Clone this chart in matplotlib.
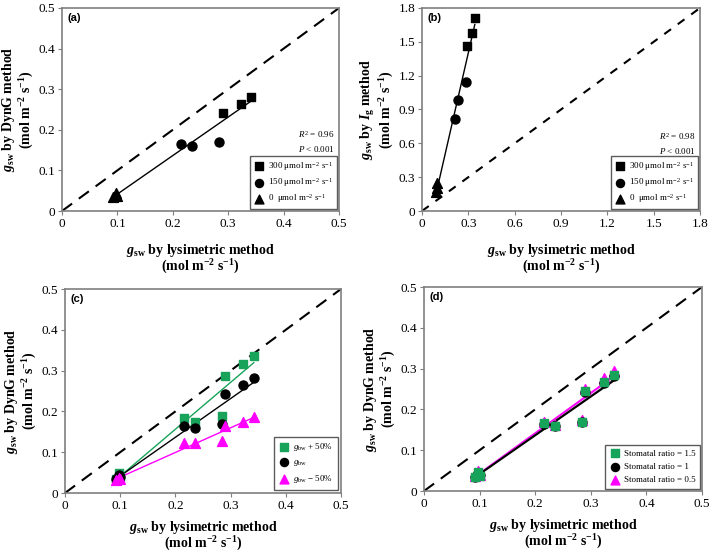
import numpy as np
import matplotlib.pyplot as plt

plt.rcParams['font.family'] = ['Liberation Serif', 'DejaVu Serif']
plt.rcParams['mathtext.fontset'] = 'custom'
plt.rcParams['mathtext.rm'] = 'Liberation Serif'
plt.rcParams['mathtext.it'] = 'Liberation Serif:italic'
plt.rcParams['mathtext.bf'] = 'Liberation Serif:bold'
plt.rcParams['mathtext.bfit'] = 'Liberation Serif:bold:italic'

## lysimetric gsw for the three light levels
lys_300 = [0.290, 0.323, 0.342]
lys_150 = [0.215, 0.235, 0.284]
lys_0 = [0.092, 0.097, 0.100]

## (a) DynG
dyn_300 = [0.242, 0.264, 0.281]
dyn_150 = [0.165, 0.159, 0.169]
dyn_0 = [0.035, 0.045, 0.038]

## (b) Ig method
ig_300 = [1.46, 1.58, 1.71]
ig_150 = [0.82, 0.98, 1.14]
ig_0 = [0.17, 0.25, 0.20]

## (c) sensitivity to gbw (order: 0, 150, 300 points)
gbw_plus = [0.035, 0.050, 0.038, 0.185, 0.175, 0.188, 0.287, 0.316, 0.337]
gbw_base = [0.035, 0.045, 0.038, 0.165, 0.159, 0.169, 0.242, 0.264, 0.281]
gbw_minus = [0.033, 0.037, 0.035, 0.123, 0.123, 0.127, 0.163, 0.175, 0.186]

## (d) sensitivity to stomatal ratio
sr_15 = [0.035, 0.047, 0.037, 0.167, 0.160, 0.170, 0.244, 0.268, 0.285]
sr_1 = [0.035, 0.045, 0.038, 0.165, 0.159, 0.169, 0.242, 0.264, 0.281]
sr_05 = [0.036, 0.048, 0.039, 0.170, 0.162, 0.175, 0.250, 0.276, 0.293]

lys_all = lys_0 + lys_150 + lys_300

light_labels = [r'300 $\mathrm{\mu}$mol m$^{-2}$ s$^{-1}$',
                r'150 $\mathrm{\mu}$mol m$^{-2}$ s$^{-1}$',
                r'0  $\mathrm{\mu}$mol m$^{-2}$ s$^{-1}$']

GREEN = '#17a35a'
MAGENTA = '#ff00ff'
FRAME = '#7f7f7f'
S_SQ, S_CI, S_TR = 40, 42, 50

fig = plt.figure(figsize=(7.09, 5.54), dpi=100)
W, H = 709.0, 554.0


def make_ax(x0, x1, ytop, ybot):
    return fig.add_axes([x0 / W, 1 - ybot / H, (x1 - x0) / W, (ybot - ytop) / H])


def style(ax, lim, ticks, tlabels, ylab, xpad=9):
    ax.set_xlim(0, lim)
    ax.set_ylim(0, lim)
    ax.set_xticks(ticks)
    ax.set_yticks(ticks)
    ax.set_xticklabels(tlabels, fontsize=9.5)
    ax.set_yticklabels(tlabels, fontsize=9.5)
    for s in ax.spines.values():
        s.set_color(FRAME)
        s.set_linewidth(1.2)
    ax.tick_params(length=3, width=0.8, color=FRAME, pad=2)
    ax.set_xlabel(r'$\mathbfit{g}_{\mathbf{sw}}$ by lysimetric method' + '\n'
                  + r'(mol m$^{\mathbf{-2}}$ s$^{\mathbf{-1}}$)',
                  fontsize=10, fontweight='bold', labelpad=xpad, linespacing=0.9)
    ax.set_ylabel(ylab, fontsize=10, fontweight='bold', labelpad=2, linespacing=1.0)
    ax.plot([0, lim], [0, lim], color='black', lw=1.5, ls=(0, (6, 4)), zorder=1)


def fit_line(ax, x, y, color, lw=1.0):
    k, b = np.polyfit(x, y, 1)
    xs = np.array([min(x), max(x)])
    ax.plot(xs, k * xs + b, color=color, lw=lw, zorder=2)


def panel_tag(ax, tag):
    ax.text(0.02, 0.975, tag, transform=ax.transAxes, fontsize=8, fontweight='bold',
            family='Liberation Sans', va='top', ha='left')


ylab_dyn = (r'$\mathbfit{g}_{\mathbf{sw}}$ by DynG method' + '\n'
            + r'(mol m$^{\mathbf{-2}}$ s$^{\mathbf{-1}}$)')
ylab_ig = (r'$\mathbfit{g}_{\mathbf{sw}}$ by $\mathbfit{I}_{\mathbf{g}}$ method' + '\n'
           + r'(mol m$^{\mathbf{-2}}$ s$^{\mathbf{-1}}$)')

t5 = [0, 0.1, 0.2, 0.3, 0.4, 0.5]
t5l = ['0', '0.1', '0.2', '0.3', '0.4', '0.5']
t18 = [0, 0.3, 0.6, 0.9, 1.2, 1.5, 1.8]
t18l = ['0', '0.3', '0.6', '0.9', '1.2', '1.5', '1.8']

leg_kw = dict(loc='lower right', fontsize=6.5, frameon=True, fancybox=False,
              edgecolor='#333333', handletextpad=0.4, borderpad=0.4,
              labelspacing=0.35, handlelength=1.2, borderaxespad=0.25,
              markerscale=0.9)

# (a)
ax = make_ax(62, 339, 8, 211)
style(ax, 0.5, t5, t5l, ylab_dyn)
ax.scatter(lys_300, dyn_300, marker='s', s=S_SQ, color='black', label=light_labels[0], zorder=3)
ax.scatter(lys_150, dyn_150, marker='o', s=S_CI, color='black', label=light_labels[1], zorder=3)
ax.scatter(lys_0, dyn_0, marker='^', s=S_TR, color='black', label=light_labels[2], zorder=3)
fit_line(ax, lys_all, dyn_0 + dyn_150 + dyn_300, 'black')
ax.legend(**leg_kw).get_frame().set_linewidth(1.0)
ax.text(0.985, 0.375, r'$R^2$ = 0.96', transform=ax.transAxes, ha='right', va='center',
        fontsize=6.5)
ax.text(0.985, 0.305, r'$P$ < 0.001', transform=ax.transAxes, ha='right', va='center',
        fontsize=6.5)
panel_tag(ax, '(a)')

# (b)
ax = make_ax(422, 700, 8, 211)
style(ax, 1.8, t18, t18l, ylab_ig)
ax.lines[0].set_linestyle((0, (4, 4)))
ax.scatter(lys_300, ig_300, marker='s', s=S_SQ, color='black', label=light_labels[0], zorder=3)
ax.scatter(lys_150, ig_150, marker='o', s=S_CI, color='black', label=light_labels[1], zorder=3)
ax.scatter(lys_0, ig_0, marker='^', s=S_TR, color='black', label=light_labels[2], zorder=3)
fit_line(ax, lys_all, ig_0 + ig_150 + ig_300, 'black')
ax.legend(**leg_kw).get_frame().set_linewidth(1.0)
ax.text(0.985, 0.365, r'$R^2$ = 0.98', transform=ax.transAxes, ha='right', va='center',
        fontsize=6.5)
ax.text(0.985, 0.295, r'$P$ < 0.001', transform=ax.transAxes, ha='right', va='center',
        fontsize=6.5)
panel_tag(ax, '(b)')

# (c)
ax = make_ax(65, 341, 289, 493)
style(ax, 0.5, t5, t5l, ylab_dyn, xpad=5)
ax.scatter(lys_all, gbw_plus, marker='s', s=S_SQ, color=GREEN,
           label=r'$g_{\mathrm{bw}}$ + 50%', zorder=3)
ax.scatter(lys_all, gbw_base, marker='o', s=S_CI, color='black',
           label=r'$g_{\mathrm{bw}}$', zorder=3)
ax.scatter(lys_all, gbw_minus, marker='^', s=S_TR, color=MAGENTA,
           label=r'$g_{\mathrm{bw}}$ $-$ 50%', zorder=3)
fit_line(ax, lys_all, gbw_plus, GREEN)
fit_line(ax, lys_all, gbw_base, 'black')
fit_line(ax, lys_all, gbw_minus, MAGENTA)
lg = ax.legend(**dict(leg_kw, labelspacing=0.55, borderpad=0.5, borderaxespad=0.35))
lg.get_frame().set_linewidth(1.0)
panel_tag(ax, '(c)')

# (d)
ax = make_ax(424, 702, 287, 491)
style(ax, 0.5, t5, t5l, ylab_dyn, xpad=5)
ax.scatter(lys_all, sr_05, marker='^', s=S_TR, color=MAGENTA, zorder=3)
ax.scatter(lys_all, sr_1, marker='o', s=S_CI, color='black', zorder=3)
ax.scatter(lys_all, sr_15, marker='s', s=S_SQ, color=GREEN, zorder=4)
fit_line(ax, lys_all, sr_05, MAGENTA, lw=1.5)
fit_line(ax, lys_all, sr_15, '#c080c0', lw=1.0)
fit_line(ax, lys_all, sr_1, 'black', lw=1.5)
h1 = ax.scatter([], [], marker='s', s=S_SQ, color=GREEN)
h2 = ax.scatter([], [], marker='o', s=S_CI, color='black')
h3 = ax.scatter([], [], marker='^', s=S_TR, color=MAGENTA)
lg = ax.legend([h1, h2, h3], ['Stomatal ratio = 1.5', 'Stomatal ratio = 1',
                              'Stomatal ratio = 0.5'],
               **dict(leg_kw, labelspacing=0.55, borderpad=0.5))
lg.get_frame().set_linewidth(1.0)
panel_tag(ax, '(d)')

fig.savefig('out.png', dpi=100)
